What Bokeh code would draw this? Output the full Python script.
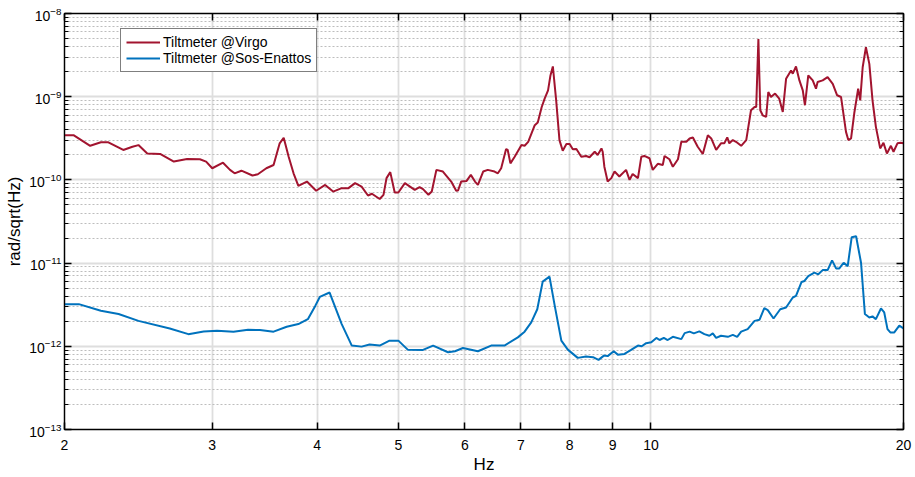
from bokeh.plotting import figure
from bokeh.models import (LogAxis, FixedTicker, LogTicker, CustomJSTickFormatter, Legend, LegendItem,
                          CustomLabelingPolicy)
from bokeh.embed import file_html
from bokeh.resources import INLINE

# Frequencies (Hz) and spectral values (rad/sqrt(Hz))
virgo_f = [2.00, 2.05, 2.146, 2.21, 2.256, 2.35, 2.41, 2.45, 2.51, 2.60, 2.70, 2.80, 2.90, 2.95, 3.00,
           3.09, 3.15, 3.19, 3.25, 3.35, 3.40, 3.48, 3.55, 3.61, 3.65, 3.70, 3.75, 3.80, 3.89, 3.99,
           4.09, 4.18, 4.28, 4.36, 4.44, 4.52, 4.60, 4.65, 4.75, 4.80, 4.84, 4.89, 4.95, 5.00, 5.09,
           5.23, 5.30, 5.35, 5.43, 5.48, 5.55, 5.65, 5.78, 5.86, 5.89, 5.94, 6.03, 6.10, 6.17, 6.22,
           6.31, 6.39, 6.51, 6.57, 6.63, 6.72, 6.75, 6.80, 6.88, 7.01, 7.07, 7.14, 7.27, 7.33, 7.41,
           7.47, 7.54, 7.59, 7.64, 7.71, 7.78, 7.85, 7.93, 8.00, 8.07, 8.15, 8.26, 8.37, 8.45, 8.57,
           8.64, 8.73, 8.76, 8.80, 8.88, 8.97, 9.05, 9.17, 9.34, 9.43, 9.51, 9.65, 9.74, 9.82, 9.96,
           10.05, 10.19, 10.33, 10.38, 10.52, 10.62, 10.77, 10.87, 11.02, 11.12, 11.22, 11.37, 11.53, 11.69, 11.80,
           11.96, 12.12, 12.23, 12.33, 12.40, 12.52, 12.63, 12.81, 12.99, 13.16, 13.29, 13.35, 13.43, 13.50, 13.59,
           13.72, 13.80, 13.90, 14.06, 14.22, 14.36, 14.49, 14.69, 14.76, 14.89, 15.03, 15.17, 15.26, 15.40, 15.59,
           15.73, 15.80, 16.02, 16.24, 16.47, 16.67, 16.85, 17.08, 17.19, 17.32, 17.47, 17.66, 17.76, 17.88, 18.04,
           18.21, 18.37, 18.54, 18.76, 18.93, 19.11, 19.32, 19.46, 19.67, 19.85, 20.0]
virgo_v = [3.45e-10, 3.45e-10, 2.57e-10, 2.83e-10, 2.83e-10, 2.29e-10, 2.50e-10, 2.62e-10, 2.08e-10, 2.05e-10,
           1.66e-10, 1.78e-10, 1.77e-10, 1.66e-10, 1.38e-10, 1.61e-10, 1.32e-10, 1.20e-10, 1.29e-10, 1.13e-10,
           1.17e-10, 1.38e-10, 1.51e-10, 2.75e-10, 3.21e-10, 1.90e-10, 1.20e-10, 8.49e-11, 9.55e-11, 7.40e-11,
           8.71e-11, 7.24e-11, 7.96e-11, 7.96e-11, 9.14e-11, 8.32e-11, 6.50e-11, 6.81e-11, 5.89e-11, 6.62e-11,
           1.05e-10, 1.24e-10, 7.05e-11, 7.05e-11, 9.14e-11, 7.60e-11, 8.18e-11, 7.74e-11, 6.62e-11, 7.24e-11,
           1.32e-10, 1.26e-10, 9.55e-11, 7.40e-11, 7.45e-11, 9.55e-11, 9.73e-11, 1.15e-10, 9.55e-11, 8.71e-11,
           1.26e-10, 1.32e-10, 1.26e-10, 1.20e-10, 1.38e-10, 2.35e-10, 2.29e-10, 1.58e-10, 1.90e-10, 2.62e-10,
           2.57e-10, 2.87e-10, 4.55e-10, 4.90e-10, 7.52e-10, 9.48e-10, 1.19e-9, 1.80e-9, 2.31e-9, 9.04e-10,
           3.01e-10, 2.24e-10, 2.70e-10, 2.70e-10, 2.33e-10, 2.35e-10, 1.90e-10, 1.94e-10, 1.87e-10, 2.18e-10,
           1.99e-10, 2.39e-10, 2.18e-10, 1.44e-10, 9.55e-11, 1.05e-10, 1.26e-10, 1.10e-10, 1.32e-10, 1.00e-10,
           1.18e-10, 1.05e-10, 1.90e-10, 1.94e-10, 1.82e-10, 1.32e-10, 1.56e-10, 1.51e-10, 1.94e-10, 1.77e-10,
           1.44e-10, 1.77e-10, 2.87e-10, 2.87e-10, 3.15e-10, 3.24e-10, 2.50e-10, 2.05e-10, 3.45e-10, 3.15e-10,
           2.29e-10, 2.75e-10, 2.75e-10, 3.24e-10, 2.75e-10, 3.01e-10, 2.87e-10, 2.57e-10, 3.01e-10, 6.87e-10,
           7.52e-10, 7.52e-10, 4.94e-9, 6.87e-10, 5.98e-10, 5.71e-10, 1.14e-9, 9.91e-10, 1.09e-9, 9.48e-10,
           6.56e-10, 1.64e-9, 2.07e-9, 1.89e-9, 2.31e-9, 1.57e-9, 1.19e-9, 7.89e-10, 1.80e-9, 1.57e-9,
           1.25e-9, 1.50e-9, 1.57e-9, 1.72e-9, 1.43e-9, 1.04e-9, 9.91e-10, 3.78e-10, 3.01e-10, 3.15e-10,
           6.28e-10, 1.25e-9, 9.04e-10, 2.26e-9, 3.93e-9, 2.48e-9, 9.04e-10, 4.34e-10, 2.39e-10, 2.79e-10,
           2.08e-10, 2.57e-10, 2.18e-10, 2.75e-10, 2.79e-10, 2.75e-10]

sos_f = [2.00, 2.08, 2.21, 2.32, 2.45, 2.67, 2.81, 2.93, 3.04, 3.18, 3.31, 3.42, 3.55, 3.68, 3.80,
         3.90, 3.98, 4.03, 4.14, 4.28, 4.40, 4.52, 4.62, 4.75, 4.88, 5.00, 5.13, 5.35, 5.50, 5.73,
         5.84, 5.97, 6.22, 6.45, 6.69, 6.94, 7.07, 7.20, 7.32, 7.43, 7.57, 7.68, 7.82, 7.96, 8.18,
         8.37, 8.53, 8.66, 8.79, 8.88, 9.03, 9.13, 9.30, 9.47, 9.65, 9.75, 9.87, 10.01, 10.15, 10.24,
         10.36, 10.47, 10.62, 10.87, 10.97, 11.12, 11.25, 11.42, 11.58, 11.74, 11.85, 11.96, 12.12, 12.35, 12.52,
         12.67, 12.81, 13.04, 13.29, 13.47, 13.65, 13.78, 14.00, 14.26, 14.49, 14.76, 14.89, 15.12, 15.24, 15.40,
         15.66, 15.83, 16.02, 16.24, 16.44, 16.62, 16.77, 16.97, 17.16, 17.35, 17.56, 17.80, 17.99, 18.21, 18.37,
         18.54, 18.80, 18.97, 19.14, 19.29, 19.50, 19.77, 20.0]
sos_v = [3.21e-12, 3.21e-12, 2.67e-12, 2.44e-12, 2.02e-12, 1.64e-12, 1.40e-12, 1.51e-12, 1.54e-12, 1.50e-12,
         1.58e-12, 1.57e-12, 1.50e-12, 1.72e-12, 1.85e-12, 2.12e-12, 3.06e-12, 3.92e-12, 4.43e-12, 1.85e-12,
         1.02e-12, 9.91e-13, 1.05e-12, 1.02e-12, 1.17e-12, 1.17e-12, 9.12e-13, 9.04e-13, 1.02e-12, 8.49e-13,
         8.73e-13, 9.55e-13, 8.73e-13, 1.02e-12, 1.02e-12, 1.28e-12, 1.50e-12, 1.94e-12, 2.79e-12, 5.98e-12,
         6.87e-12, 3.06e-12, 1.17e-12, 9.12e-13, 7.26e-13, 7.52e-13, 7.41e-13, 6.87e-13, 7.73e-13, 7.62e-13,
         8.73e-13, 7.94e-13, 8.09e-13, 9.04e-13, 1.02e-12, 1.00e-12, 1.09e-12, 1.12e-12, 1.26e-12, 1.19e-12,
         1.26e-12, 1.19e-12, 1.30e-12, 1.22e-12, 1.44e-12, 1.50e-12, 1.43e-12, 1.51e-12, 1.40e-12, 1.34e-12,
         1.43e-12, 1.26e-12, 1.34e-12, 1.30e-12, 1.37e-12, 1.30e-12, 1.50e-12, 1.61e-12, 2.02e-12, 2.08e-12,
         2.87e-12, 2.72e-12, 2.16e-12, 2.79e-12, 2.93e-12, 3.86e-12, 4.03e-12, 5.93e-12, 6.10e-12, 6.98e-12,
         7.67e-12, 7.33e-12, 8.24e-12, 8.24e-12, 1.08e-11, 8.63e-12, 8.63e-12, 1.01e-11, 9.20e-12, 2.05e-11,
         2.10e-11, 1.01e-11, 2.44e-12, 2.22e-12, 2.29e-12, 2.12e-12, 2.85e-12, 2.55e-12, 1.61e-12, 1.47e-12,
         1.47e-12, 1.77e-12, 1.64e-12]

x_ticks = [2, 3, 4, 5, 6, 7, 8, 9, 10, 20]
series_names = ["Tiltmeter @Virgo", "Tiltmeter @Sos-Enattos"]
series_colors = ["#A2142F", "#0072BD"]

FONT = "Liberation Sans"

p = figure(width=914, height=476, output_backend="svg", toolbar_location=None,
           x_axis_type="log", y_axis_type="log",
           x_range=(2, 20), y_range=(1e-13, 1e-8),
           min_border_left=64, min_border_right=11, min_border_top=13, min_border_bottom=45)

p.outline_line_color = "black"
p.outline_line_width = 1.2
p.background_fill_color = "white"
p.border_fill_color = "white"

# grids
p.xgrid.ticker = FixedTicker(ticks=x_ticks)
p.xgrid.grid_line_color = "#dedede"
p.xgrid.grid_line_width = 1.8
p.ygrid.grid_line_color = "#dedede"
p.ygrid.grid_line_width = 1.8
p.ygrid.minor_grid_line_color = "#bdbdbd"
p.ygrid.minor_grid_line_dash = "2 2"
p.ygrid.minor_grid_line_width = 1.2

fmt = CustomJSTickFormatter(code="return tick.toFixed(0);")

xa = p.xaxis[0]
xa.ticker = FixedTicker(ticks=x_ticks, minor_ticks=[])
xa.formatter = fmt
xa.axis_label = "Hz"
ya = p.yaxis[0]
ya.axis_label = "rad/sqrt(Hz)"

for ax in (xa, ya):
    ax.axis_label_text_font = FONT
    ax.axis_label_text_font_size = "17px"
    ax.axis_label_text_font_style = "normal"
    ax.axis_label_text_color = "black"
    ax.major_label_text_font = FONT
    ax.major_label_text_font_size = "14px"
    ax.major_label_text_color = "black"
    ax.axis_line_color = "black"
    ax.axis_line_width = 1.3
    ax.major_tick_in = 7
    ax.major_tick_out = 0
    ax.minor_tick_in = 4
    ax.minor_tick_out = 0
    ax.major_tick_line_width = 1.5
    ax.major_tick_line_color = "black"
    ax.minor_tick_line_color = "black"
xa.major_label_standoff = 10
xa.axis_label_standoff = 2
ya.major_label_standoff = 3
ya.axis_label_standoff = 2

# top and right axes (ticks only, no labels drawn)
hide = CustomLabelingPolicy(code="return new Set()")
top = LogAxis(ticker=FixedTicker(ticks=x_ticks, minor_ticks=[]),
              major_label_text_font_size="1px", major_label_standoff=0, major_label_policy=hide,
              major_tick_in=7, major_tick_out=0, minor_tick_in=0, minor_tick_out=0,
              major_tick_line_width=1.5, axis_line_color="black", axis_line_width=1.3)
right = LogAxis(ticker=LogTicker(),
                major_label_text_font_size="1px", major_label_standoff=0, major_label_policy=hide,
                major_tick_in=7, major_tick_out=0, minor_tick_in=4, minor_tick_out=0,
                major_tick_line_width=1.5, axis_line_color="black", axis_line_width=1.3)
p.add_layout(top, "above")
p.add_layout(right, "right")

r1 = p.line(virgo_f, virgo_v, line_color=series_colors[0], line_width=2)
r2 = p.line(sos_f, sos_v, line_color=series_colors[1], line_width=2)

legend = Legend(items=[LegendItem(label=series_names[0], renderers=[r1]),
                       LegendItem(label=series_names[1], renderers=[r2])],
                location=(56, 357))
legend.border_line_color = "black"
legend.border_line_width = 1.2
legend.background_fill_alpha = 1
legend.label_text_font = FONT
legend.label_text_font_size = "14px"
legend.label_text_color = "black"
legend.glyph_width = 34
legend.glyph_height = 16
legend.label_height = 16
legend.label_standoff = 3
legend.padding = 5
legend.spacing = 0
legend.margin = 0
p.add_layout(legend, "center")

open("out.html", "w").write(file_html(p, INLINE))
